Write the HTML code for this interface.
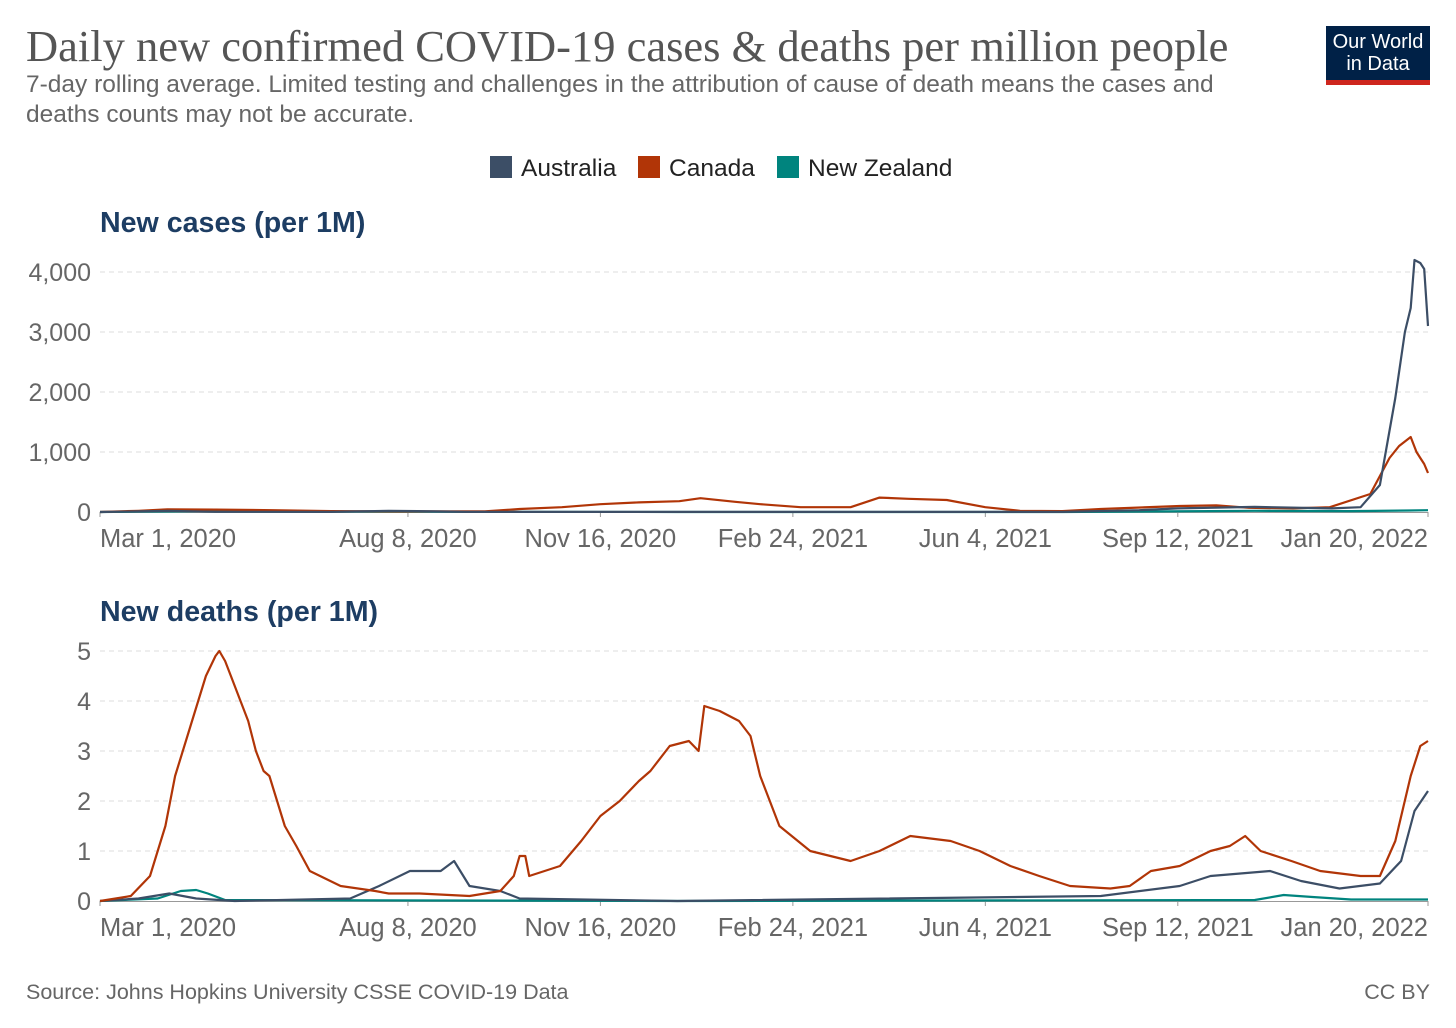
<!DOCTYPE html>
<html><head><meta charset="utf-8"><style>
body{margin:0;background:#fff;width:1456px;height:1028px;overflow:hidden;font-family:"Liberation Sans",sans-serif;}
#title{position:absolute;left:26px;top:20px;font-family:"Liberation Serif",serif;font-size:44.5px;color:#555;white-space:nowrap;}
#sub{position:absolute;left:26px;top:70px;font-size:24.5px;color:#666;line-height:30px;width:1240px;}
#logo{position:absolute;left:1326px;top:26px;width:104px;height:59px;background:#002147;color:#fff;font-size:20px;line-height:22px;text-align:center;box-sizing:border-box;padding-top:5px;border-bottom:5px solid #ce261e;}
#src{position:absolute;left:26px;top:980px;font-size:21.5px;color:#666;}
#cc{position:absolute;right:26px;top:980px;font-size:21.5px;color:#666;}
</style></head><body>
<div id="title">Daily new confirmed COVID-19 cases &amp; deaths per million people</div>
<div id="sub">7-day rolling average. Limited testing and challenges in the attribution of cause of death means the cases and deaths counts may not be accurate.</div>
<div id="logo">Our World<br>in Data</div>
<svg id="chart" width="1456" height="1028" style="position:absolute;left:0;top:0"></svg>
<div id="src">Source: Johns Hopkins University CSSE COVID-19 Data</div>
<div id="cc">CC BY</div>
<script>
// days since Mar 1, 2020
const xTickDays=[0,160,260,360,460,560,690];
const xTickLabels=["Mar 1, 2020","Aug 8, 2020","Nov 16, 2020","Feb 24, 2021","Jun 4, 2021","Sep 12, 2021","Jan 20, 2022"];
const casesTicks=[0,1000,2000,3000,4000];
const deathsTicks=[0,1,2,3,4,5];
const seriesNames=["Australia","Canada","New Zealand"];
const seriesColors=["#3c4e66","#b13507","#00847e"];

const ausCasesDays=[0,20,36,60,120,150,165,190,300,500,540,560,600,640,655,665,673,678,681,683,686,688,690];
const ausCasesVals=[0,10,20,3,2,20,15,2,1,2,30,60,85,60,80,450,1900,3000,3400,4200,4150,4050,3100];
const canCasesDays=[0,20,35,60,90,120,160,200,218,240,260,280,301,312,330,343,364,390,405,420,440,460,478,500,520,561,580,597,620,639,660,670,675,681,684,686,688,690];
const canCasesVals=[0,20,45,40,30,15,10,10,50,80,130,160,180,230,170,130,80,80,240,220,200,80,20,15,50,100,110,70,60,80,300,900,1100,1250,1000,900,800,650];
const nzCasesDays=[0,40,300,500,600,650,680,690];
const nzCasesVals=[0,10,0,0,20,15,25,30];

const canDeathsDays=[0,16,26,34,39,47,55,60,62,65,68,73,77,81,85,88,96,102,109,125,143,150,166,192,208,215,218,221,223,239,250,260,270,280,286,296,306,311,314,322,332,338,343,353,369,390,405,421,442,457,473,488,504,525,535,546,561,577,587,595,603,619,634,655,665,673,681,686,690];
const canDeathsVals=[0,0.1,0.5,1.5,2.5,3.5,4.5,4.9,5.0,4.8,4.5,4.0,3.6,3.0,2.6,2.5,1.5,1.1,0.6,0.3,0.2,0.15,0.15,0.1,0.2,0.5,0.9,0.9,0.5,0.7,1.2,1.7,2.0,2.4,2.6,3.1,3.2,3.0,3.9,3.8,3.6,3.3,2.5,1.5,1.0,0.8,1.0,1.3,1.2,1.0,0.7,0.5,0.3,0.25,0.3,0.6,0.7,1.0,1.1,1.3,1.0,0.8,0.6,0.5,0.5,1.2,2.5,3.1,3.2];
const ausDeathsDays=[0,20,36,50,70,130,145,161,177,184,192,208,218,300,520,561,577,608,624,644,665,676,683,690];
const ausDeathsVals=[0,0.05,0.15,0.05,0,0.05,0.3,0.6,0.6,0.8,0.3,0.2,0.05,0,0.1,0.3,0.5,0.6,0.4,0.25,0.35,0.8,1.8,2.2];
const nzDeathsDays=[0,30,42,50,56,65,300,600,615,630,650,690];
const nzDeathsVals=[0,0.05,0.2,0.22,0.15,0.02,0,0.02,0.12,0.08,0.03,0.03];

const NS="http://www.w3.org/2000/svg";
const svg=document.getElementById('chart');
const X0=100,X1=1428,DMAX=690;
function xs(d){return X0+d/DMAX*(X1-X0);}
function mk(t,a,p){const e=document.createElementNS(NS,t);for(const k in a)e.setAttribute(k,a[k]);(p||svg).appendChild(e);return e;}

let lx=[490,638,777];
seriesNames.forEach((n,i)=>{
 const r=mk('rect',{x:lx[i],y:156,width:22,height:22,fill:seriesColors[i]});
 
 
 const t=mk('text',{x:lx[i]+31,y:176,'font-size':24.5,fill:'#222'});t.textContent=n;
 
 
});

function panel(title,titleY,y0,pxPerUnit,ticks,fmt,series,key){
 const ys=v=>y0-v*pxPerUnit;
 const tt=mk('text',{x:100,y:titleY,'font-size':28.6,'font-weight':'bold',fill:'#1d3d63'});tt.textContent=title;
 
 
 ticks.forEach(v=>{
  if(v>0){const g=mk('line',{x1:100,x2:1428,y1:ys(v),y2:ys(v),stroke:'#ddd','stroke-dasharray':'5,4'});
  
  }
  const t=mk('text',{x:91,y:ys(v)+9,'font-size':25,fill:'#666','text-anchor':'end'});t.textContent=fmt(v);
  
  
 });
 const ax=mk('line',{x1:100,x2:1428,y1:y0+0.5,y2:y0+0.5,stroke:'#999'});
 
 
 xTickDays.forEach((d,i)=>{
  const anc=i==0?'start':(i==xTickDays.length-1?'end':'middle');
  mk('line',{x1:xs(d),x2:xs(d),y1:y0,y2:y0+5,stroke:'#999'});
  const t=mk('text',{x:xs(d),y:y0+35,'font-size':25.5,fill:'#666','text-anchor':anc});t.textContent=xTickLabels[i];
  
  
 });
 series.forEach(s=>{
  const pts=s.d.map((d,i)=>xs(d).toFixed(1)+','+ys(s.v[i]).toFixed(1)).join(' ');
  const p=mk('polyline',{points:pts,fill:'none',stroke:s.c,'stroke-width':2.2,'stroke-linejoin':'round'});
  
  
 });
}
panel('New cases (per 1M)',232,512,0.06,casesTicks,v=>v.toLocaleString('en-US'),[
 {d:nzCasesDays,v:nzCasesVals,c:seriesColors[2],n:'new-zealand'},
 {d:canCasesDays,v:canCasesVals,c:seriesColors[1],n:'canada'},
 {d:ausCasesDays,v:ausCasesVals,c:seriesColors[0],n:'australia'}],'cases');
panel('New deaths (per 1M)',621,901,50,deathsTicks,v=>String(v),[
 {d:nzDeathsDays,v:nzDeathsVals,c:seriesColors[2],n:'new-zealand'},
 {d:ausDeathsDays,v:ausDeathsVals,c:seriesColors[0],n:'australia'},
 {d:canDeathsDays,v:canDeathsVals,c:seriesColors[1],n:'canada'}],'deaths');
</script>
</body></html>
